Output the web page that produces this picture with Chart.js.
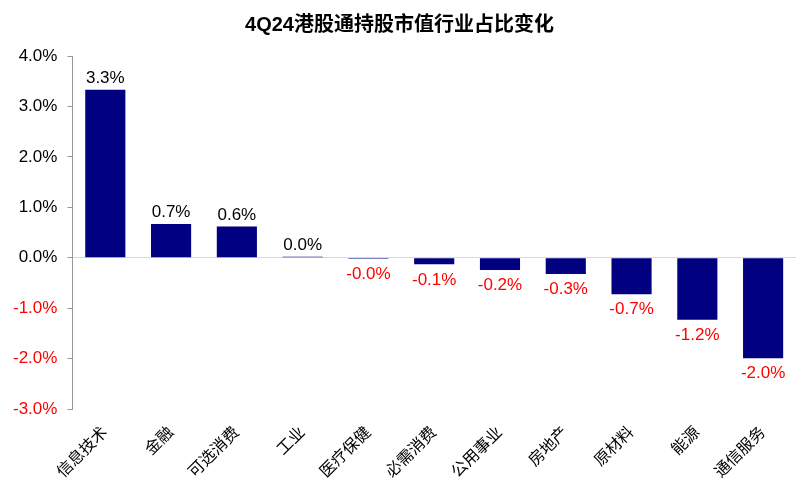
<!DOCTYPE html>
<html><head><meta charset="utf-8">
<script src="https://cdn.jsdelivr.net/npm/chart.js@4/dist/chart.umd.min.js"></script>
<style>html,body{margin:0;padding:0;background:#fff}#w{width:801px;height:494px}</style>
</head><body><div id="w"><canvas id="c"></canvas></div>
<script>
const categories = ['信息技术','金融','可选消费','工业','医疗保健','必需消费','公用事业','房地产','原材料','能源','通信服务'];
const values = [3.33, 0.67, 0.62, 0.02, -0.02, -0.13, -0.24, -0.32, -0.72, -1.23, -1.99];
const yTicks = [-3, -2, -1, 0, 1, 2, 3, 4];
const titleText = '4Q24港股通持股市值行业占比变化';
const FONT = '"Liberation Sans", Arial, "Noto Sans CJK SC", sans-serif';

const labelPlugin = {
  id: 'vlabels',
  afterDatasetsDraw(chart) {
    const ctx = chart.ctx;
    const meta = chart.getDatasetMeta(0);
    ctx.save();
    ctx.font = '17px ' + FONT;
    ctx.textAlign = 'center';
    meta.data.forEach((bar, i) => {
      const v = values[i];
      const txt = v.toFixed(1) + '%';
      if (v >= 0) {
        ctx.fillStyle = '#000';
        ctx.textBaseline = 'alphabetic';
        ctx.fillText(txt, bar.x, bar.y - 7);
      } else {
        ctx.fillStyle = '#ff0000';
        ctx.textBaseline = 'top';
        ctx.fillText(txt, bar.x, bar.y + 7);
      }
    });
    ctx.restore();
  }
};

new Chart(document.getElementById('c'), {
  type: 'bar',
  data: {
    labels: categories,
    datasets: [{
      data: values,
      backgroundColor: '#000080',
      borderWidth: 0,
      barPercentage: 0.61,
      categoryPercentage: 1.0
    }]
  },
  options: {
    responsive: true,
    maintainAspectRatio: false,
    animation: false,
    layout: { padding: { left: 3, right: 5, top: 0, bottom: 6 } },
    plugins: {
      legend: { display: false },
      tooltip: { enabled: false },
      title: {
        display: true, text: titleText, color: '#000',
        font: { family: FONT, size: 20, weight: 'bold' },
        padding: { top: 13, bottom: 19 }
      }
    },
    scales: {
      x: {
        grid: { display: false },
        border: { display: false },
        ticks: {
          color: '#000', maxRotation: 45, minRotation: 45,
          font: { family: FONT, size: 16 }, padding: 6
        }
      },
      y: {
        min: -3, max: 4,
        afterBuildTicks(s) { s.ticks = yTicks.map(v => ({ value: v })); },
        border: { display: true, color: '#999', width: 1 },
        grid: {
          drawOnChartArea: true,
          color: c => (c.tick && c.tick.value === 0) ? '#d9d9d9' : 'rgba(0,0,0,0)',
          tickColor: '#999', tickLength: 5
        },
        ticks: {
          padding: 10,
          color: c => c.tick.value < 0 ? '#ff0000' : '#000',
          font: { family: FONT, size: 17 },
          callback: v => v.toFixed(1) + '%'
        }
      }
    }
  },
  plugins: [labelPlugin]
});
</script></body></html>
